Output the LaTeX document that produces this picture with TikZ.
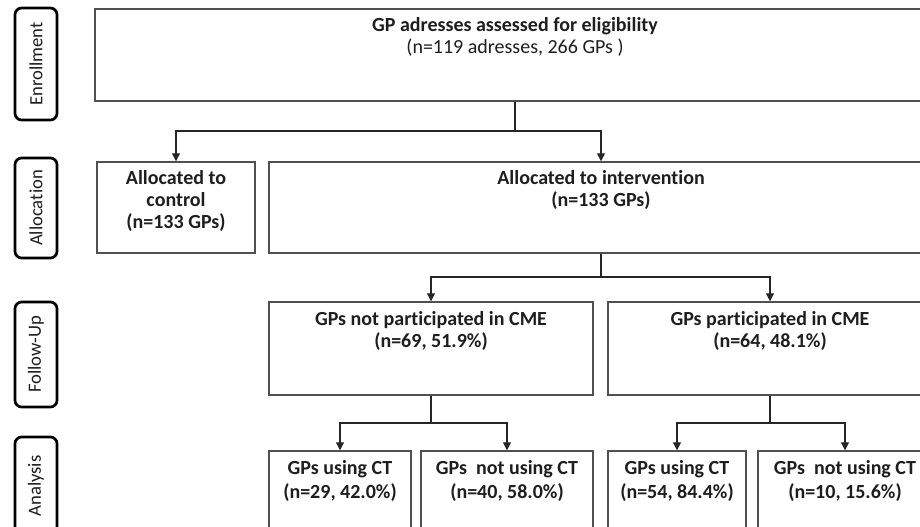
\documentclass[tikz,border=0pt]{standalone}
\usepackage{fontspec}
\setmainfont{Carlito}[Ligatures={NoCommon}]
\usetikzlibrary{fit,arrows.meta}
\definecolor{boxline}{HTML}{505050}
\definecolor{txtcol}{HTML}{1E1E1E}
\tikzset{
  box/.style={draw=boxline, line width=1.1pt, inner sep=0pt, rectangle},
  lab/.style={draw=black, line width=2pt, rounded corners=5pt, inner sep=0pt, rectangle},
  labtxt/.style={rotate=90, font=\fontsize{14}{16}\selectfont, text=txtcol, inner sep=0pt},
  btxt/.style={font=\fontsize{15}{16}\selectfont\bfseries, text=txtcol, align=center, anchor=north, inner sep=0pt},
  conn/.style={draw=black!85, line width=0.9pt},
  arr/.style={conn, -{Triangle[width=6pt,length=6pt]}},
}
\begin{document}
\begin{tikzpicture}[x=0.75pt,y=-0.75pt]
\clip (0,0) rectangle (920,526);
\fill[white] (0,0) rectangle (920,526);
% stage labels
\node[lab, fit={(15,8) (57,120)}] (lenr) {};
\node[labtxt] (lenrt) at (lenr.center) {Enrollment};
\node[lab, fit={(15,158) (57,258)}] (lall) {};
\node[labtxt] (lallt) at (lall.center) {Allocation};
\node[lab, fit={(15,302) (57,407)}] (lfol) {};
\node[labtxt] (lfolt) at (lfol.center) {Follow-Up};
\node[lab, fit={(15,437) (57,545)}] (lana) {};
\node[labtxt] (lanat) at (15+21,486) {Analysis};
% boxes
\node[box, fit={(95,9) (935,101)}] (top) {};
\node[btxt] (topt) at (515,17) {GP adresses assessed for eligibility\\[1pt]\mdseries (n=119 adresses, 266 GPs )};
\node[box, fit={(97,162) (255,253)}] (ctrl) {};
\node[btxt] (ctrlt) at (176,170) {Allocated to\\[0.5pt]control\\[0.5pt](n=133 GPs)};
\node[box, fit={(269,162) (933,253)}] (int) {};
\node[btxt] (intt) at (601,170) {Allocated to intervention\\[0.5pt](n=133 GPs)};
\node[box, fit={(269,302) (593,395)}] (nsp) {};
\node[btxt] (nspt) at (431,311) {GPs not participated in CME\\[0.5pt](n=69, 51.9\%)};
\node[box, fit={(608,302) (932,395)}] (sp) {};
\node[btxt] (spt) at (770,311) {GPs participated in CME\\[0.5pt](n=64, 48.1\%)};
\node[box, fit={(269,451) (411,560)}] (b1) {};
\node[btxt] (b1t) at (340,460) {GPs using CT\\[2pt](n=29, 42.0\%)};
\node[box, fit={(421,451) (593,560)}] (b2) {};
\node[btxt] (b2t) at (507,460) {GPs\ \ not using CT\\[2pt](n=40, 58.0\%)};
\node[box, fit={(608,451) (746,560)}] (b3) {};
\node[btxt] (b3t) at (677,460) {GPs using CT\\[2pt](n=54, 84.4\%)};
\node[box, fit={(758,451) (932,560)}] (b4) {};
\node[btxt] (b4t) at (845,460) {GPs\ \ not using CT\\[2pt](n=10, 15.6\%)};
% connectors
\coordinate (j1) at (515,131);
\draw[conn] (top.south) -- (j1);
\draw[arr] (j1) -| (ctrl.north);
\draw[arr] (j1) -| (int.north);
\coordinate (j2) at (601,277);
\draw[conn] (int.south) -- (j2);
\draw[arr] (j2) -| (nsp.north);
\draw[arr] (j2) -| (sp.north);
\coordinate (j3) at (nsp.south |- 0,423);
\draw[conn] (nsp.south) -- (j3);
\draw[arr] (j3) -| (b1.north);
\draw[arr] (j3) -| (b2.north);
\coordinate (j4) at (sp.south |- 0,423);
\draw[conn] (sp.south) -- (j4);
\draw[arr] (j4) -| (b3.north);
\draw[arr] (j4) -| (b4.north);
\end{tikzpicture}
\end{document}
